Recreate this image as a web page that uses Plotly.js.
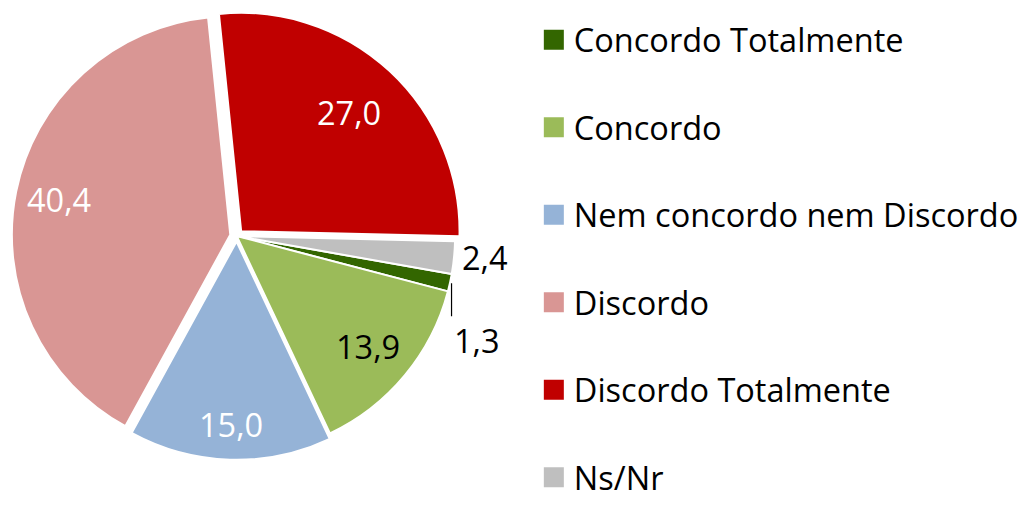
<!DOCTYPE html>
<html>
<head>
<meta charset="utf-8">
<script src="https://cdn.plot.ly/plotly-3.0.1.min.js"></script>
<style>
  html, body { margin: 0; padding: 0; background: #fff; }
  #chart { width: 1024px; height: 505px; }
</style>
</head>
<body>
<div id="chart"></div>
<script>
var labels = ['Concordo Totalmente', 'Concordo', 'Nem concordo nem Discordo', 'Discordo', 'Discordo Totalmente', 'Ns/Nr'];
var values = [1.3, 13.9, 15.0, 40.4, 27.0, 2.4];
var colors = ['#336600', '#9bbb59', '#95b3d7', '#d99694', '#c00000', '#bfbfbf'];
var textColors = ['#000000', '#000000', '#ffffff', '#ffffff', '#ffffff', '#000000'];
var pulls = [0, 0, 0.025, 0.03, 0.03, 0];
// how far out (fraction of radius) each inside label sits
var labelRadius = [0, 0.78, 0.83, 0.8, 0.73, 0];

// pie geometry in pixels (plotly shrinks the radius by 1 + max pull)
var W = 1024, H = 505;
var cx = 239.5, cy = 236, R = 221;
var rotation = 100;
var FONT = 'Open Sans';
var FS = 32.5;

var maxPull = Math.max.apply(null, pulls);
var half = R * (1 + maxPull);
var domX = [(cx - half) / W, (cx + half) / W];
var domY = [(H - cy - half) / H, (H - cy + half) / H];

// extra empty line under each legend name gives the wide spacing of the original
var legendNames = labels.map(function (s, i) {
  return i < labels.length - 1 ? s + '<br> ' : s;
});

var trace = {
  type: 'pie',
  labels: legendNames,
  values: values,
  sort: false,
  direction: 'clockwise',
  rotation: rotation,
  pull: pulls,
  marker: {
    colors: colors,
    line: { color: '#ffffff', width: 2 }
  },
  textinfo: 'none',
  hoverinfo: 'none',
  domain: { x: domX, y: domY }
};

// value labels, placed like Excel's best fit: big ones inside, small ones outside
var total = values.reduce(function (a, b) { return a + b; }, 0);
var annotations = [];
var cum = 0;
values.forEach(function (v, i) {
  var ang = (rotation + 360 * (cum + v / 2) / total) * Math.PI / 180;
  cum += v;
  var txt = v.toFixed(1).replace('.', ',');
  var font = { family: FONT, size: FS, color: textColors[i] };
  if (v >= 10) {
    var rr = labelRadius[i] * R + pulls[i] * R;
    annotations.push({
      xref: 'paper', yref: 'paper',
      x: (cx + rr * Math.sin(ang)) / W,
      y: (H - (cy - rr * Math.cos(ang))) / H,
      xanchor: 'center', yanchor: 'middle',
      text: txt, showarrow: false, font: font
    });
  } else {
    var ex = cx + R * Math.sin(ang), ey = cy - R * Math.cos(ang);
    if (i === 0) {
      // 1,3 sits below with a leader line
      annotations.push({
        xref: 'paper', yref: 'paper',
        x: (ex + 1.5) / W, y: (H - ey) / H,
        text: txt, font: font,
        showarrow: true, arrowhead: 0, arrowwidth: 1.2, arrowcolor: '#000000',
        ax: 0, ay: 33, xanchor: 'left', yanchor: 'top', standoff: 0
      });
    } else {
      annotations.push({
        xref: 'paper', yref: 'paper',
        x: (ex + 6) / W, y: (H - ey) / H,
        text: txt, showarrow: false, font: font,
        xanchor: 'left', yanchor: 'middle'
      });
    }
  }
});

var layout = {
  width: W,
  height: H,
  margin: { l: 0, r: 0, t: 0, b: 0 },
  paper_bgcolor: '#ffffff',
  font: { family: FONT, size: FS, color: '#000000' },
  showlegend: true,
  legend: {
    x: 0.5275,
    y: 0,
    xanchor: 'left',
    yanchor: 'bottom',
    valign: 'top',
    font: { family: FONT, size: FS, color: '#000000' }
  },
  annotations: annotations
};

Plotly.newPlot('chart', [trace], layout, { displayModeBar: false, staticPlot: true }).then(function (gd) {
  // bigger legend squares, as in the original
  gd.querySelectorAll('path.legendpie').forEach(function (p) {
    p.setAttribute('d', 'M11,11H-11V-11H11Z');
  });
});
</script>
</body>
</html>
